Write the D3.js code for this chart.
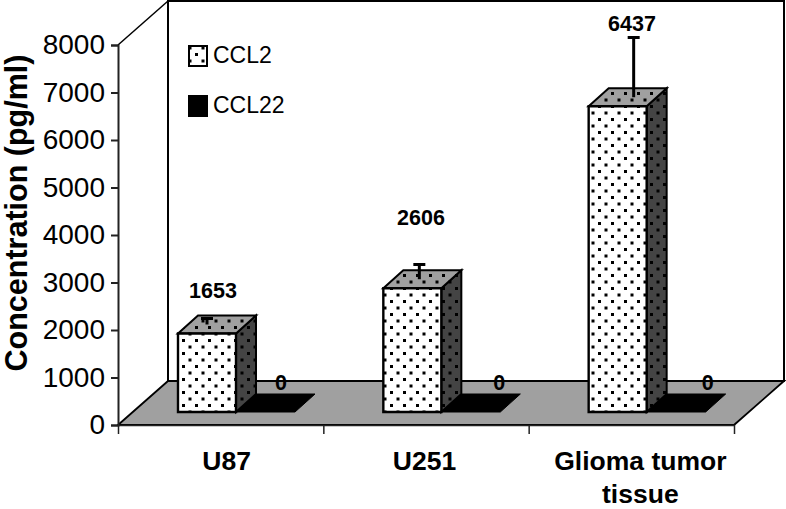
<!DOCTYPE html>
<html lang="en">
  <head>
    <meta charset="utf-8">
    <title>CCL2 and CCL22 concentration</title>
    <script src="https://cdn.jsdelivr.net/npm/d3@7"></script>
    <style>
      html, body { margin: 0; padding: 0; background: #fff; }
      svg { display: block; }
      text { font-family: "Liberation Sans", Arial, sans-serif; fill: #000; }
    </style>
  </head>
  <body>
    <script>
      const categories = [["U87"], ["U251"], ["Glioma tumor", "tissue"]];
      const ccl2 = [1653, 2606, 6437];
      const ccl22 = [0, 0, 0];
      const ccl2Err = [126, 310, 1258];
      const yTicks = [0, 1000, 2000, 3000, 4000, 5000, 6000, 7000, 8000];
      const seriesNames = ["CCL2", "CCL22"];

      const w = 786, h = 509;
      const plot = {left: 118, right: 734, top: 45, bottom: 425};
      const wall = {dx: 50, dy: -44};     // depth of the whole box
      const depth = {dx: 20, dy: -18};    // depth of one bar
      const floorGap = 13;                // bars stand a bit behind the front edge
      const whiskerShift = [29, 36, 45];  // whisker sits off centre, a bit more on each bar
      const zeroShift = [163, 176, 179];  // the "0" labels are not evenly placed either
      const catShift = [6, -1.5, 9];

      const svg = d3.select("body").append("svg").attr("width", w).attr("height", h);

      const y = d3.scaleLinear().domain([0, 8000]).range([plot.bottom, plot.top]);
      const xTick = d3.scaleLinear().domain([0, 3]).range([plot.left, plot.right]);
      const xBand = d3.scaleBand().domain(d3.range(3)).range([plot.left, plot.right]);
      const xBar = d3.scaleBand().domain(seriesNames).range([60, 178]);

      // dot fills
      const defs = svg.append("defs");
      function dots(id, bg) {
        const p = defs.append("pattern").attr("id", id)
          .attr("patternUnits", "userSpaceOnUse").attr("width", 13).attr("height", 13);
        p.append("rect").attr("width", 13).attr("height", 13).attr("fill", bg);
        p.append("rect").attr("x", 0).attr("y", 1).attr("width", 3).attr("height", 3).attr("fill", "#000");
        p.append("rect").attr("x", 6.5).attr("y", 7.5).attr("width", 3).attr("height", 3).attr("fill", "#000");
      }
      dots("dotFront", "#fff");
      dots("dotTop", "#a0a0a0");
      dots("dotSide", "#444");

      const pts = a => a.map(d => d.join(",")).join(" ");
      const poly = (a, fill, sw) => svg.append("polygon").attr("points", pts(a))
        .attr("fill", fill).attr("stroke", "#000").attr("stroke-width", sw).attr("stroke-linejoin", "miter");

      // back wall and floor
      const x0 = plot.left, x1 = plot.right, y0 = y(0), yT = y(8000);
      poly([[x0 + wall.dx, y0 + wall.dy], [x0 + wall.dx, yT + wall.dy], [x1 + wall.dx, yT + wall.dy], [x1 + wall.dx, y0 + wall.dy]], "#fff", 2);
      poly([[x0, y0], [x0 + wall.dx, y0 + wall.dy], [x1 + wall.dx, y0 + wall.dy], [x1, y0]], "#a0a0a0", 1.8);
      svg.append("line").attr("x1", x0).attr("y1", yT).attr("x2", x0 + wall.dx).attr("y2", yT + wall.dy)
        .attr("stroke", "#000").attr("stroke-width", 1.5);

      // y axis
      const yAxis = svg.append("g").attr("transform", `translate(${plot.left},0)`)
        .call(d3.axisLeft(y).tickValues(yTicks).tickFormat(d3.format("d")).tickSize(7).tickPadding(6));
      yAxis.selectAll("path, line").attr("stroke", "#222").attr("stroke-width", 2);
      yAxis.selectAll("text").attr("font-size", 28).style("font-family", '"Liberation Sans", Arial, sans-serif');

      // x axis, ticks only, labels are wrapped by hand below
      const xAxis = svg.append("g").attr("transform", `translate(0,${plot.bottom})`)
        .call(d3.axisBottom(xTick).tickValues([0, 1, 2, 3]).tickFormat("").tickSize(9).tickSizeOuter(0));
      xAxis.selectAll("path, line").attr("stroke", "#222").attr("stroke-width", 1.5);

      const barY = v => y(v) - floorGap;

      // bars
      categories.forEach((c, i) => {
        const left = xBand(i);
        const xa = left + xBar("CCL2"), xb = xa + xBar.bandwidth() - 1;
        const base = barY(0);

        // CCL22 is just a flat black slab on the floor
        const xc = left + xBar("CCL22");
        poly([[xb, base], [xc + xBar.bandwidth() - 1, base],
              [xc + xBar.bandwidth() - 1 + depth.dx, base + depth.dy], [xb + depth.dx, base + depth.dy]], "#000", 1);

        const top = barY(ccl2[i]);
        poly([[xb, base], [xb, top], [xb + depth.dx, top + depth.dy], [xb + depth.dx, base + depth.dy]], "url(#dotSide)", 2);
        poly([[xa, top], [xb, top], [xb + depth.dx, top + depth.dy], [xa + depth.dx, top + depth.dy]], "url(#dotTop)", 2);
        poly([[xa, base], [xa, top], [xb, top], [xb, base]], "url(#dotFront)", 2.4);

        // error bar, rises from the middle of the top face
        const ex = xa + whiskerShift[i];
        const mid = depth.dy / 2;
        const ey = barY(ccl2[i] + ccl2Err[i]) + mid;
        svg.append("line").attr("x1", ex).attr("x2", ex).attr("y1", top + mid).attr("y2", ey)
          .attr("stroke", "#000").attr("stroke-width", 3);
        svg.append("line").attr("x1", ex - 6).attr("x2", ex + 6).attr("y1", ey).attr("y2", ey)
          .attr("stroke", "#000").attr("stroke-width", 3);
      });

      // value labels
      const labelY = [298, 225, 31];
      const labelX = [213, 421, 632];
      ccl2.forEach((v, i) => {
        svg.append("text").attr("x", labelX[i]).attr("y", labelY[i]).attr("text-anchor", "middle")
          .attr("font-size", 21.5).attr("font-weight", "bold").text(v);
      });
      ccl22.forEach((v, i) => {
        svg.append("text").attr("x", xBand(i) + zeroShift[i]).attr("y", 390).attr("text-anchor", "middle")
          .attr("font-size", 21.5).attr("font-weight", "bold").text(v);
      });

      // category labels
      categories.forEach((c, i) => {
        c.forEach((line, j) => {
          svg.append("text").attr("x", xBand(i) + xBand.bandwidth() / 2 + catShift[i]).attr("y", 470 + j * 33)
            .attr("text-anchor", "middle").attr("font-size", 26.5).attr("font-weight", "bold").text(line);
        });
      });

      // y title
      svg.append("text").attr("transform", "translate(27,213) rotate(-90)")
        .attr("text-anchor", "middle").attr("font-size", 30.5).attr("font-weight", "bold")
        .text("Concentration (pg/ml)");

      // legend
      const legendY = d3.scalePoint().domain(seriesNames).range([56, 106]);
      seriesNames.forEach((s, i) => {
        svg.append("rect").attr("x", 189).attr("y", legendY(s) - 10).attr("width", 18).attr("height", 20)
          .attr("fill", i ? "#000" : "url(#dotFront)").attr("stroke", "#000").attr("stroke-width", 2);
        svg.append("text").attr("x", 213).attr("y", legendY(s) + 7).attr("font-size", 23).text(s);
      });
    </script>
  </body>
</html>
